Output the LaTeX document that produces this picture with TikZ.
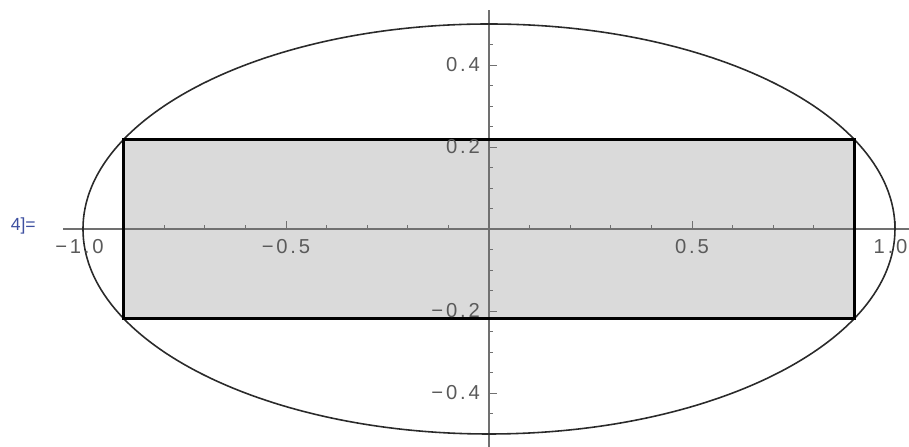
\documentclass[tikz,border=0pt]{standalone}
\usepackage{fontspec}
\setmainfont{Liberation Sans}
\newfontfamily\tickfont[LetterSpace=14]{Liberation Sans}
\usetikzlibrary{positioning}
\definecolor{caxis}{HTML}{707070}
\definecolor{clabel}{HTML}{5a5a5a}
\definecolor{cbox}{HTML}{dadada}
\definecolor{cink}{HTML}{2a2a2a}
\definecolor{cout}{HTML}{3d4fa0}

\begin{document}
\begin{tikzpicture}[x=8.12cm, y=8.2cm, every node/.style={font=\tickfont\fontsize{11.5}{13}\selectfont, text=clabel, inner sep=0pt}]
      \useasboundingbox (-1.2044,-0.5317) rectangle (1.0345,0.5585);
      \fill[cbox] (-0.9,-0.218) rectangle (0.9,0.218);
      \draw[caxis, line width=.6pt] (-1.049,0) -- (1.0345,0);
      \draw[caxis, line width=.6pt] (0,-0.5317) -- (0,0.534);
      \foreach \i in {-10,...,10} {
        \draw[caxis, line width=.5pt] (\i/10,0) -- ++(0,2.5pt);
      }
      \foreach \i in {-10,-5,5,10} {
        \draw[caxis, line width=.5pt] (\i/10,0) -- ++(0,4.5pt);
      }
      \foreach \j in {-10,...,10} {
        \draw[caxis, line width=.5pt] (0,\j/20) -- ++(2.5pt,0);
      }
      \foreach \j in {-4,-2,2,4} {
        \draw[caxis, line width=.5pt] (0,\j/10) -- ++(4.5pt,0);
      }
      \draw[cink, line width=.9pt] (0,0) ellipse (1 and 0.5);
      \draw[black, line width=1.8pt] (-0.9,-0.218) rectangle (0.9,0.218);
      \node[anchor=north, yshift=-6pt, xshift=-2pt] (xm10) at (-1,0) {−1.0};
      \node[anchor=north, yshift=-6pt] (xm05) at (-0.5,0) {−0.5};
      \node[anchor=north, yshift=-6pt] (xp05) at (0.5,0) {0.5};
      \node[anchor=north, yshift=-6pt, xshift=-2.5pt] (xp10) at (1,0) {1.0};
      \node[anchor=east, xshift=-5pt] (yp04) at (0,0.4) {0.4};
      \node[anchor=east, xshift=-5pt] (yp02) at (0,0.2) {0.2};
      \node[anchor=east, xshift=-5pt] (ym02) at (0,-0.2) {−0.2};
      \node[anchor=east, xshift=-5pt] (ym04) at (0,-0.4) {−0.4};
      \node[text=cout, font=\fontsize{10}{12}\selectfont] (outlbl) at (-1.147,0.008) {4]=};
    \end{tikzpicture}
\end{document}
